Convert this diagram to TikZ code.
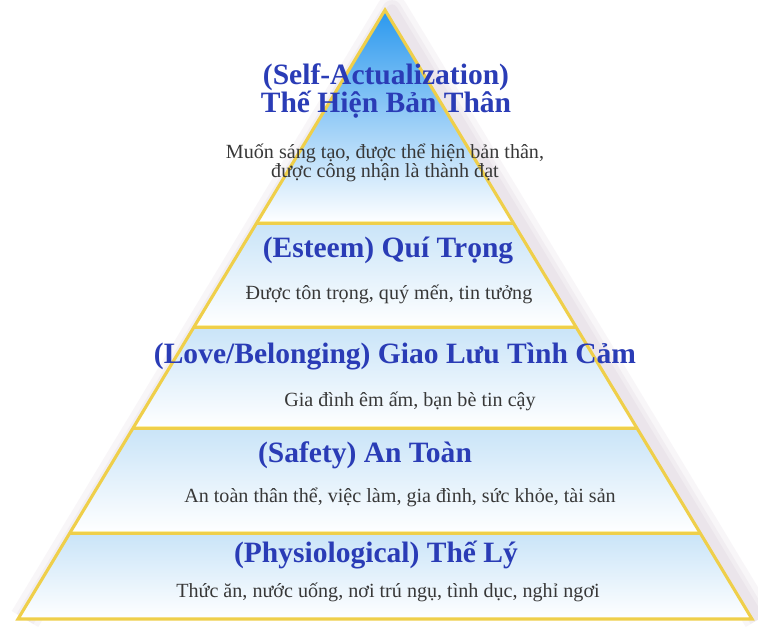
\documentclass[tikz,border=0pt]{standalone}
\usepackage{fontspec}
\setmainfont{Liberation Serif}
\usepackage{xcolor}
\usepackage{tikz}
\usetikzlibrary{calc}

\definecolor{gold}{HTML}{EFCF4A}
\definecolor{lightgold}{HTML}{FBEFA8}
\definecolor{titleblue}{HTML}{2A3CB6}
\definecolor{skyblue}{HTML}{2A98EE}
\definecolor{paleblue}{HTML}{C9E4F8}
\definecolor{desctext}{HTML}{383838}

\begin{document}
\begin{tikzpicture}[x=0.025cm, y=-0.025cm,
        band/.style={draw=gold, line width=1pt, top color=paleblue, bottom color=white},
        topband/.style={band, top color=skyblue, middle color=skyblue!40!white, bottom color=white},
        sep/.style={draw=gold, line width=2.6pt},
        title/.style={font=\bfseries\fontsize{21}{20.5}\selectfont, text=titleblue, align=center},
        desc/.style={font=\fontsize{14.3}{13.5}\selectfont, text=desctext, align=center},
    ]
        \useasboundingbox[fill=white] (0,0) rectangle (758,633);
        \coordinate (apex) at (385,10);
        \coordinate (bl)   at (18,619);
        \coordinate (br)   at (752,619);
        % corners of the bands
        \foreach \n/\t in {a/0.3498, b/0.5205, c/0.6864, d/0.8588} {
            \coordinate (l\n) at ($(apex)!\t!(bl)$);
            \coordinate (r\n) at ($(apex)!\t!(br)$);
        }

        % soft shadow on the slopes
        \foreach \w in {22,14,8}
            \draw[gray!70!violet, opacity=0.05, line width=\w pt, line join=round]
                ([xshift=5]bl) -- ([xshift=5]apex) -- ([xshift=5]br);

        \draw[topband] (apex) -- (ra) -- (la) -- cycle;
        \draw[band] (la) -- (ra) -- (rb) -- (lb) -- cycle;
        \draw[band] (lb) -- (rb) -- (rc) -- (lc) -- cycle;
        \draw[band] (lc) -- (rc) -- (rd) -- (ld) -- cycle;
        \draw[band] (ld) -- (rd) -- (br) -- (bl) -- cycle;

        \foreach \n in {a,b,c,d} {
            \draw[sep] (l\n) -- (r\n);
            \draw[lightgold, line width=0.8pt] ([yshift=1]l\n) -- ([yshift=1]r\n);
        }
        \draw[gold, line width=2.2pt, line join=miter] (apex) -- (br) -- (bl) -- cycle;

        \node[title] (selftitle)   at (386,91)  {(Self-Actualization)\\Thế Hiện Bản Thân};
        \node[desc]  (selfdesc)    at (385,163) {Muốn sáng tạo, được thể hiện bản thân,\\được công nhận là thành đạt};
        \node[title] (esteemtitle) at (388,250) {(Esteem) Quí Trọng};
        \node[desc]  (esteemdesc)  at (389,294) {Được tôn trọng, quý mến, tin tưởng};
        \node[title] (lovetitle)   at (395,356) {(Love/Belonging) Giao Lưu Tình Cảm};
        \node[desc]  (lovedesc)    at (410,401) {Gia đình êm ấm, bạn bè tin cậy};
        \node[title] (safetytitle) at (365,455) {(Safety) An Toàn};
        \node[desc]  (safetydesc)  at (400,497) {An toàn thân thể, việc làm, gia đình, sức khỏe, tài sản};
        \node[title] (physiotitle) at (376,555) {(Physiological) Thế Lý};
        \node[desc]  (physiodesc)  at (388,592) {Thức ăn, nước uống, nơi trú ngụ, tình dục, nghỉ ngơi};
    \end{tikzpicture}
\end{document}
